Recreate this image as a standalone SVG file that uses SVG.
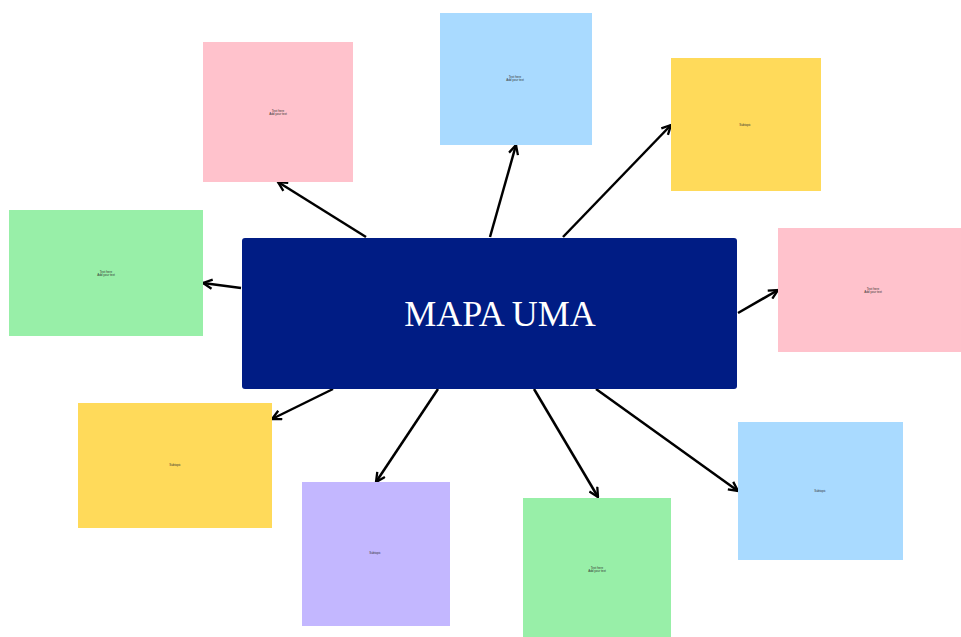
<svg xmlns="http://www.w3.org/2000/svg" width="961" height="637" viewBox="0 0 961 637">
<style>
.c{stroke:#000;stroke-width:2.5;fill:none;marker-end:url(#a)}
.t{font-family:"Liberation Sans",Arial,sans-serif;font-size:3px;fill:#333;text-anchor:middle}
.pink{fill:#ffc2cc}.blue{fill:#a9daff}.yel{fill:#ffda5a}.grn{fill:#98efa8}.pur{fill:#c3b7ff}
</style>
<defs>
<marker id="a" viewBox="0 0 10 10" refX="9" refY="5" markerWidth="4.6" markerHeight="4.6" orient="auto" markerUnits="strokeWidth">
<path d="M1,1 L9,5 L1,9" fill="none" stroke="#000" stroke-width="2"/>
</marker>
</defs>
<rect width="961" height="637" fill="#fff"/>
<g id="connectors">
<line class="c" x1="366" y1="237" x2="278" y2="182"/>
<line class="c" x1="490" y1="237" x2="516" y2="145"/>
<line class="c" x1="563" y1="237" x2="671" y2="125"/>
<line class="c" x1="738" y1="313" x2="778" y2="290"/>
<line class="c" x1="596" y1="389" x2="738" y2="491"/>
<line class="c" x1="534" y1="389" x2="598" y2="497"/>
<line class="c" x1="438" y1="389" x2="376" y2="482"/>
<line class="c" x1="333" y1="389" x2="272" y2="419"/>
<line class="c" x1="241" y1="288" x2="203" y2="283"/>
</g>
<g id="n1"><rect class="pink" x="203" y="42" width="150" height="140"/><text class="t" x="278" y="111.5">Text here</text><text class="t" x="278" y="114.8">Add your text</text></g>
<g id="n2"><rect class="blue" x="440" y="13" width="152" height="132"/><text class="t" x="515" y="77.5">Text here</text><text class="t" x="515" y="80.8">Add your text</text></g>
<g id="n3"><rect class="yel" x="671" y="58" width="150" height="133"/><text class="t" x="745" y="126">Subtopic</text></g>
<g id="n4"><rect class="pink" x="778" y="228" width="183" height="124"/><text class="t" x="873" y="289.5">Text here</text><text class="t" x="873" y="292.8">Add your text</text></g>
<g id="n5"><rect class="blue" x="738" y="422" width="165" height="138"/><text class="t" x="820" y="492">Subtopic</text></g>
<g id="n6"><rect class="grn" x="523" y="498" width="148" height="139"/><text class="t" x="597" y="568.5">Text here</text><text class="t" x="597" y="571.8">Add your text</text></g>
<g id="n7"><rect class="pur" x="302" y="482" width="148" height="144"/><text class="t" x="375" y="554">Subtopic</text></g>
<g id="n8"><rect class="yel" x="78" y="403" width="194" height="125"/><text class="t" x="175" y="466">Subtopic</text></g>
<g id="n9"><rect class="grn" x="9" y="210" width="194" height="126"/><text class="t" x="106" y="272.5">Text here</text><text class="t" x="106" y="275.8">Add your text</text></g>
<g id="center"><rect x="242" y="238" width="495" height="151" rx="3" fill="#001c84"/><text x="500" y="326" font-family="'Liberation Serif','Times New Roman',serif" font-size="36" fill="#fff" text-anchor="middle">MAPA UMA</text></g>
</svg>
